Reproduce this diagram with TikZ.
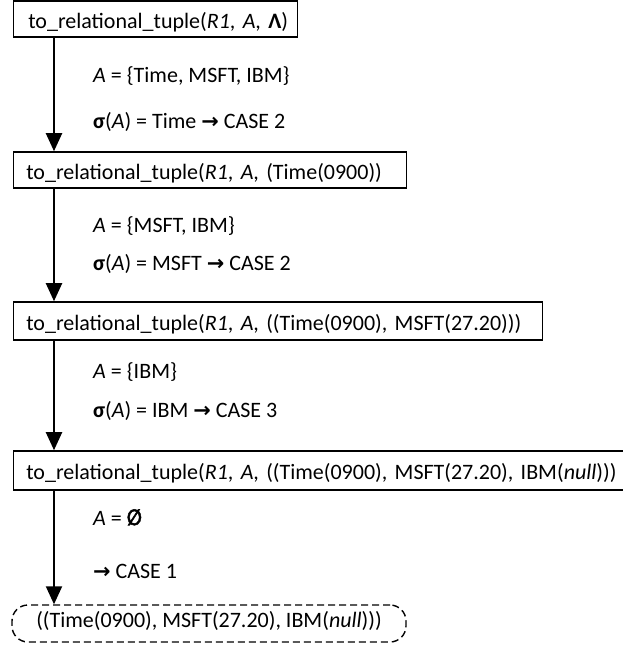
\documentclass[tikz,border=0pt]{standalone}
\usepackage{fontspec}
\setmainfont{Carlito}
\newfontfamily\arrfnt{DejaVu Sans Bold}
\newfontfamily\heavyfnt[FakeBold=2.5]{DejaVu Sans Bold}
\usetikzlibrary{arrows.meta}
\newcommand{\rarr}{{\arrfnt\scalebox{0.95}{→}}}
\tikzset{
  tbox/.style={draw, line width=1.6pt, anchor=west, align=left, inner xsep=13pt, inner ysep=0pt,
               text height=21pt, text depth=3pt,
               font=\fontsize{22}{26}\selectfont},
  fbox/.style={draw, line width=1.4pt, dash pattern=on 7pt off 4pt, rounded corners=16pt,
               inner xsep=8pt, inner ysep=0pt, minimum width=394pt, minimum height=37pt,
               text height=17pt, text depth=9pt,
               font=\fontsize{22}{26}\selectfont},
  lbl/.style={anchor=base west, inner sep=0pt, font=\fontsize{22}{26}\selectfont},
  arr/.style={line width=2pt, -{Triangle[length=18pt,width=16pt]}},
}
\begin{document}
\begin{tikzpicture}[x=1pt,y=-1pt]
\useasboundingbox (0,0) rectangle (622,648);
\coordinate (ax) at (54,0);
\node[tbox, inner xsep=15pt, text width=254pt, minimum height=36pt] (b1) at (12.5,19)
  {\mbox{to\_relational\_tuple(\textit{R1}, \textit{A}, \textbf{Λ})}};
\node[tbox, text width=367pt, minimum height=36pt] (b2) at (12.5,170)
  {\mbox{to\_relational\_tuple(\textit{R1}, \textit{A}, (Time(0900))}};
\node[tbox, text width=503pt, minimum height=38pt] (b3) at (12.5,321)
  {\mbox{to\_relational\_tuple(\textit{R1}, \textit{A}, ((Time(0900), MSFT(27.20)))}};
\node[tbox, text width=584.5pt, minimum height=39pt] (b4) at (12.5,470.5)
  {\mbox{to\_relational\_tuple(\textit{R1}, \textit{A}, ((Time(0900), MSFT(27.20), IBM(\textit{null})))}};
\node[fbox] (f) at (209,623.5) {((Time(0900), MSFT(27.20), IBM(\textit{null})))};

\node[lbl] (l1a) at (93,82) {\textit{A} = \{Time, MSFT, IBM\}};
\node[lbl] (l1b) at (93,128) {\textbf{σ}(\textit{A}) = Time \rarr{} CASE 2};
\node[lbl] (l2a) at (93,232) {\textit{A} = \{MSFT, IBM\}};
\node[lbl] (l2b) at (93,270) {\textbf{σ}(\textit{A}) = MSFT \rarr{} CASE 2};
\node[lbl] (l3a) at (93,378) {\textit{A} = \{IBM\}};
\node[lbl] (l3b) at (93,417) {\textbf{σ}(\textit{A}) = IBM \rarr{} CASE 3};
\node[lbl] (l4a) at (93,525) {\textit{A} = {\heavyfnt\scalebox{0.8}[1]{∅}}};
\node[lbl] (l4b) at (93,578) {\rarr{} CASE 1};

\draw[arr] (b1.south -| ax) -- (b2.north -| ax);
\draw[arr] (b2.south -| ax) -- (b3.north -| ax);
\draw[arr] (b3.south -| ax) -- (b4.north -| ax);
\draw[arr] (b4.south -| ax) -- (f.north -| ax);
\end{tikzpicture}
\end{document}
